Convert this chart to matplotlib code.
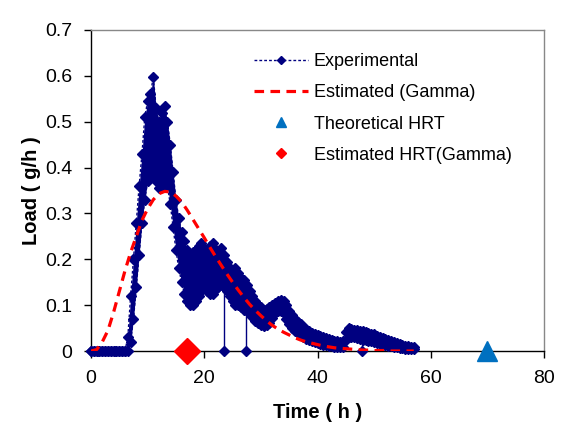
import numpy as np
import matplotlib
matplotlib.use("Agg")
import matplotlib.pyplot as plt
from matplotlib.lines import Line2D

plt.rcParams['font.family'] = ['Liberation Sans', 'DejaVu Sans']

# ---- data ----
exp_t_start, exp_t_step = 0.0, 0.5
exp_upper = [0, 0, 0, 0, 0, 0, 0, 0, 0, 0, 0, 0, 0,
             0.03, 0.12, 0.20, 0.28, 0.36, 0.43, 0.51, 0.545, 0.56, 0.598, 0.53, 0.50,
             0.52, 0.535, 0.50, 0.45, 0.39, 0.33, 0.29, 0.26, 0.24, 0.22, 0.21, 0.215,
             0.22, 0.23, 0.235, 0.225, 0.215, 0.228, 0.235, 0.22, 0.21, 0.225, 0.21, 0.195,
             0.18, 0.175, 0.18, 0.17, 0.16, 0.155, 0.145, 0.13, 0.12, 0.11, 0.10, 0.095,
             0.09, 0.092, 0.095, 0.10, 0.105, 0.11, 0.112, 0.11, 0.10, 0.088, 0.078, 0.07,
             0.064, 0.058, 0.053, 0.048, 0.044, 0.04, 0.037, 0.034, 0.032, 0.03, 0.028, 0.026,
             0.024, 0.022, 0.021, 0.02, 0.022, 0.042, 0.05, 0.048, 0.046, 0.045, 0.044, 0.043,
             0.041, 0.04, 0.038, 0.036, 0.033, 0.03, 0.028, 0.026, 0.024, 0.022, 0.019, 0.017,
             0.015, 0.013, 0.011, 0.01, 0.009, 0.008]
exp_lower = [0, 0, 0, 0, 0, 0, 0, 0, 0, 0, 0, 0, 0,
             0.0, 0.02, 0.07, 0.14, 0.21, 0.28, 0.33, 0.37, 0.38, 0.385, 0.37, 0.355,
             0.36, 0.37, 0.36, 0.32, 0.27, 0.22, 0.18, 0.15, 0.125, 0.11, 0.10, 0.10,
             0.11, 0.12, 0.13, 0.14, 0.13, 0.125, 0.125, 0.135, 0.14, 0.15, 0.14, 0.13,
             0.12, 0.11, 0.10, 0.10, 0.095, 0.09, 0.088, 0.083, 0.075, 0.066, 0.06, 0.056,
             0.055, 0.056, 0.06, 0.072, 0.082, 0.088, 0.088, 0.082, 0.07, 0.058, 0.05, 0.044,
             0.039, 0.034, 0.03, 0.026, 0.023, 0.021, 0.019, 0.017, 0.015, 0.014, 0.012, 0.011,
             0.01, 0.009, 0.008, 0.008, 0.009, 0.025, 0.03, 0.03, 0.03, 0.029, 0.027, 0.025,
             0.024, 0.022, 0.021, 0.02, 0.018, 0.016, 0.014, 0.012, 0.011, 0.01, 0.009, 0.008,
             0.007, 0.006, 0.005, 0.005, 0.005, 0.005]
dropout_t = [23.4, 27.4, 47.9]
dropout_top = [0.14, 0.09, 0.035]

gamma_t = list(range(0, 58))
gamma_load = [0, 0.003, 0.02, 0.045, 0.085, 0.13, 0.175, 0.215, 0.25, 0.285,
              0.31, 0.33, 0.343, 0.348, 0.347, 0.338, 0.325, 0.307, 0.287, 0.267,
              0.247, 0.226, 0.206, 0.187, 0.168, 0.15, 0.133, 0.117, 0.102, 0.089,
              0.077, 0.066, 0.056, 0.048, 0.041, 0.035, 0.029, 0.024, 0.02, 0.017,
              0.014, 0.011, 0.009, 0.007, 0.006, 0.005, 0.004, 0.003, 0.002, 0.002,
              0.001, 0.001, 0.001, 0, 0, 0, 0, 0]

theo_hrt = 70.0
est_hrt = 17.0

labels = ['Experimental', 'Estimated (Gamma)', 'Theoretical HRT', 'Estimated HRT(Gamma)']
xticks = [0, 20, 40, 60, 80]
yticks = [0, 0.1, 0.2, 0.3, 0.4, 0.5, 0.6, 0.7]
ytick_labels = ['0', '0.1', '0.2', '0.3', '0.4', '0.5', '0.6', '0.7']

# ---- styling ----
navy = '#000080'
red = '#FF0000'
blue = '#0070C0'

fig = plt.figure(figsize=(5.69, 4.23), dpi=100)
ax = fig.add_axes([91/569, 1 - 351/423, (544-91)/569, (351-30)/423])

exp_t = exp_t_start + exp_t_step * np.arange(len(exp_upper))

ax.fill_between(exp_t, exp_lower, exp_upper, color=navy, lw=0, zorder=3, clip_on=False)
for env in (exp_upper, exp_lower):
    ax.plot(exp_t, env, color=navy, lw=1, ls=(0, (2, 1.5)), marker='D', ms=5.2,
            mec=navy, mfc=navy, zorder=3, clip_on=False)
for t, top in zip(dropout_t, dropout_top):
    ax.plot([t, t], [top, 0], color=navy, lw=1, marker='D', ms=4.6,
            mec=navy, mfc=navy, zorder=3, clip_on=False)

ax.plot(gamma_t, gamma_load, color=red, lw=2.3, ls=(0, (3, 2)), zorder=4)

ax.plot([theo_hrt], [0], ls='none', marker='^', ms=15, color=blue, zorder=5, clip_on=False)
ax.plot([est_hrt], [0], ls='none', marker='D', ms=13, color=red, zorder=5, clip_on=False)

ax.set_xlim(0, 80)
ax.set_ylim(0, 0.7)
ax.set_xticks(xticks)
ax.set_yticks(yticks)
ax.set_yticklabels(ytick_labels)
ax.tick_params(axis='both', direction='out', length=5, width=1, labelsize=14, pad=8.5,
               colors='black')
for s in ('left', 'bottom'):
    ax.spines[s].set_color('black')
    ax.spines[s].set_linewidth(1)
for s in ('top', 'right'):
    ax.spines[s].set_color('#888888')
    ax.spines[s].set_linewidth(1)

ax.set_xlabel('Time ( h )', fontsize=14.5, fontweight='bold', labelpad=12)
ax.set_ylabel('Load ( g/h )', fontsize=14.5, fontweight='bold', labelpad=3)

handles = [
    Line2D([], [], color=navy, lw=1, ls=(0, (2, 1.5)), marker='D', ms=4.5, mfc=navy, mec=navy),
    Line2D([], [], color=red, lw=2.3, ls=(0, (3, 2))),
    Line2D([], [], ls='none', marker='^', ms=6.5, color=blue),
    Line2D([], [], ls='none', marker='D', ms=5, color=red),
]
leg = ax.legend(handles, labels, loc='upper left', frameon=False,
                bbox_to_anchor=(254/569, 1 - 53/423), bbox_transform=fig.transFigure,
                borderpad=0, borderaxespad=0, handlelength=3.0, handletextpad=0.3,
                labelspacing=0.79, prop={'size': 13})

fig.savefig('out.png', dpi=100)
